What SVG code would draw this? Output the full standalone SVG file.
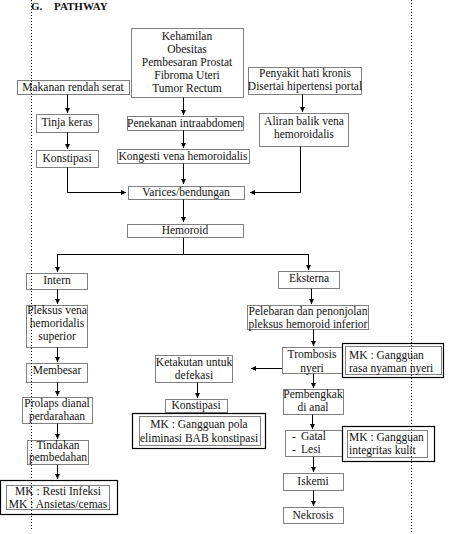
<svg xmlns="http://www.w3.org/2000/svg" width="454" height="534" viewBox="0 0 454 534">
<defs>
<marker id="ah" markerUnits="userSpaceOnUse" markerWidth="5" markerHeight="5" refX="5" refY="2.5" orient="auto">
<path d="M0,0 L5,2.5 L0,5 z" fill="#000"/>
</marker>
<style>
.b{fill:#fff;stroke:#000;stroke-width:1;stroke-dasharray:1,1}
.s{fill:#fff;stroke:#000;stroke-width:1.2}
.pg{stroke:#000;stroke-width:1;stroke-dasharray:1,2;fill:none}
text{font-family:"Liberation Serif","Times New Roman",serif;font-size:11.5px;fill:#111}
.c{text-anchor:middle}
.t{font-weight:bold;font-size:11px}
.cn line,.cn polyline{stroke:#000;stroke-width:1;fill:none}
.a{marker-end:url(#ah)}
</style>
</defs>
<rect width="454" height="534" fill="#fff"/>
<text class="t" x="31" y="10">G.</text>
<text class="t" x="54" y="10">PATHWAY</text>

<g class="cn">
<line class="a" x1="67.5" y1="94" x2="67.5" y2="113"/>
<line class="a" x1="183.5" y1="97" x2="183.5" y2="115"/>
<line class="a" x1="302.5" y1="94" x2="302.5" y2="112"/>
<line class="a" x1="67.5" y1="132" x2="67.5" y2="149"/>
<line class="a" x1="183.5" y1="130" x2="183.5" y2="148"/>
<line class="a" x1="183.5" y1="163" x2="183.5" y2="184"/>
<polyline class="a" points="67.5,167 67.5,192.5 126,192.5"/>
<polyline class="a" points="300.5,146 300.5,192.5 250,192.5"/>
<line class="a" x1="183.5" y1="199" x2="183.5" y2="222"/>
<line x1="183.5" y1="237" x2="183.5" y2="254.5"/>
<line x1="57.5" y1="254.5" x2="308.5" y2="254.5"/>
<line class="a" x1="57.5" y1="254" x2="57.5" y2="272"/>
<line class="a" x1="308.5" y1="254" x2="308.5" y2="270"/>
<line class="a" x1="57.5" y1="289" x2="57.5" y2="304"/>
<line class="a" x1="311.5" y1="288" x2="311.5" y2="304"/>
<line class="a" x1="57.5" y1="347" x2="57.5" y2="362"/>
<line class="a" x1="313.5" y1="329" x2="313.5" y2="346"/>
<line class="a" x1="282" y1="368.5" x2="251" y2="368.5"/>
<line class="a" x1="197.5" y1="382" x2="197.5" y2="398"/>
<line class="a" x1="313.5" y1="373" x2="313.5" y2="388"/>
<line class="a" x1="312.5" y1="414" x2="312.5" y2="429"/>
<line class="a" x1="313.5" y1="456" x2="313.5" y2="472"/>
<line class="a" x1="313.5" y1="490" x2="313.5" y2="506"/>
<line class="a" x1="57.5" y1="382" x2="57.5" y2="396"/>
<line class="a" x1="57.5" y1="423" x2="57.5" y2="439"/>
<line class="a" x1="57.5" y1="464" x2="57.5" y2="479"/>
</g>

<g id="kehamilan"><rect class="b" x="131.5" y="28.5" width="112" height="69"/>
<text class="c" x="187" y="40">Kehamilan</text><text class="c" x="187" y="53">Obesitas</text><text class="c" x="187" y="66">Pembesaran Prostat</text><text class="c" x="187" y="79">Fibroma Uteri</text><text class="c" x="187" y="92">Tumor Rectum</text></g>
<g id="makanan"><rect class="b" x="17.5" y="80.5" width="112" height="14"/><text class="c" x="73" y="91">Makanan rendah serat</text></g>
<g id="penyakit"><rect class="b" x="248.5" y="67.5" width="113" height="27"/><text class="c" x="305" y="77">Penyakit hati kronis</text><text class="c" x="305" y="90">Disertai hipertensi portal</text></g>
<g id="tinja"><rect class="b" x="36.5" y="114.5" width="62" height="18"/><text class="c" x="67" y="126">Tinja keras</text></g>
<g id="penekanan"><rect class="b" x="127.5" y="116.5" width="116" height="14"/><text class="c" x="185" y="127">Penekanan intraabdomen</text></g>
<g id="aliran"><rect class="b" x="259.5" y="113.5" width="89" height="33"/><text class="c" x="304" y="125">Aliran balik vena</text><text class="c" x="304" y="138">hemoroidalis</text></g>
<g id="konstipasi1"><rect class="b" x="36.5" y="150.5" width="62" height="17"/><text class="c" x="67" y="162">Konstipasi</text></g>
<g id="kongesti"><rect class="b" x="117.5" y="149.5" width="132" height="14"/><text class="c" x="183" y="160">Kongesti vena hemoroidalis</text></g>
<g id="varices"><rect class="b" x="128.5" y="186.5" width="116" height="13"/><text class="c" x="186" y="196">Varices/bendungan</text></g>
<g id="hemoroid"><rect class="b" x="127.5" y="224.5" width="116" height="13"/><text class="c" x="185" y="234">Hemoroid</text></g>
<g id="intern"><rect class="b" x="26.5" y="273.5" width="61" height="16"/><text class="c" x="57" y="284">Intern</text></g>
<g id="eksterna"><rect class="b" x="278.5" y="271.5" width="61" height="17"/><text class="c" x="309" y="282">Eksterna</text></g>
<g id="pleksus"><rect class="b" x="26.5" y="305.5" width="61" height="42"/><text class="c" x="57" y="314">Pleksus vena</text><text class="c" x="57" y="327">hemoridalis</text><text class="c" x="57" y="340">superior</text></g>
<g id="pelebaran"><rect class="b" x="247.5" y="305.5" width="121" height="24"/><text class="c" x="308" y="315">Pelebaran dan penonjolan</text><text class="c" x="308" y="328">pleksus hemoroid inferior</text></g>
<g id="membesar"><rect class="b" x="26.5" y="363.5" width="61" height="19"/><text class="c" x="57" y="374">Membesar</text></g>
<g id="trombosis"><rect class="b" x="282.5" y="347.5" width="60" height="26"/><text class="c" x="312" y="358">Trombosis</text><text class="c" x="312" y="372">nyeri</text></g>
<g id="mk-nyeri"><rect class="s" x="342.5" y="343.5" width="101" height="34"/><rect class="b" x="345.5" y="346.5" width="96" height="28"/><text x="349" y="359">MK : Gangguan</text><text x="349" y="372">rasa nyaman nyeri</text></g>
<g id="ketakutan"><rect class="b" x="155.5" y="355.5" width="77" height="27"/><text class="c" x="194" y="366">Ketakutan untuk</text><text class="c" x="194" y="379">defekasi</text></g>
<g id="konstipasi2"><rect class="b" x="165.5" y="399.5" width="62" height="13"/><text class="c" x="196" y="409">Konstipasi</text></g>
<g id="mk-pola"><rect class="s" x="132.5" y="413.5" width="133" height="35"/><rect class="b" x="139.5" y="416.5" width="121" height="29"/><text class="c" x="199" y="428">MK : Gangguan pola</text><text class="c" x="199" y="442">eliminasi BAB konstipasi</text></g>
<g id="pembengkak"><rect class="b" x="283.5" y="389.5" width="60" height="25"/><text class="c" x="313" y="398">Pembengkak</text><text class="c" x="313" y="411">di anal</text></g>
<g id="gatal"><rect class="b" x="285.5" y="430.5" width="58" height="26"/><text x="292" y="440">-</text><text x="301" y="440">Gatal</text><text x="292" y="453">-</text><text x="301" y="453">Lesi</text></g>
<g id="mk-kulit"><rect class="s" x="342.5" y="426.5" width="92" height="35"/><rect class="b" x="347.5" y="430.5" width="80" height="27"/><text x="349" y="441">MK : Gangguan</text><text x="349" y="454">integritas kulit</text></g>
<g id="iskemi"><rect class="b" x="283.5" y="473.5" width="60" height="17"/><text class="c" x="313" y="485">Iskemi</text></g>
<g id="nekrosis"><rect class="b" x="283.5" y="507.5" width="60" height="16"/><text class="c" x="313" y="519">Nekrosis</text></g>
<g id="prolaps"><rect class="b" x="22.5" y="397.5" width="70" height="26"/><text class="c" x="57" y="407">Prolaps dianal</text><text class="c" x="57" y="420">perdarahaan</text></g>
<g id="tindakan"><rect class="b" x="27.5" y="440.5" width="61" height="24"/><text class="c" x="58" y="449">Tindakan</text><text class="c" x="58" y="461">pembedahan</text></g>
<g id="mk-resti"><rect class="s" x="0.5" y="480.5" width="117" height="34"/><rect class="b" x="6.5" y="485.5" width="103" height="24"/><text class="c" x="58" y="495">MK : Resti Infeksi</text><text class="c" x="58" y="508">MK : Ansietas/cemas</text></g>
<line class="pg" x1="31.5" y1="0" x2="31.5" y2="530"/>
<line class="pg" x1="411.5" y1="0" x2="411.5" y2="534"/>
</svg>
